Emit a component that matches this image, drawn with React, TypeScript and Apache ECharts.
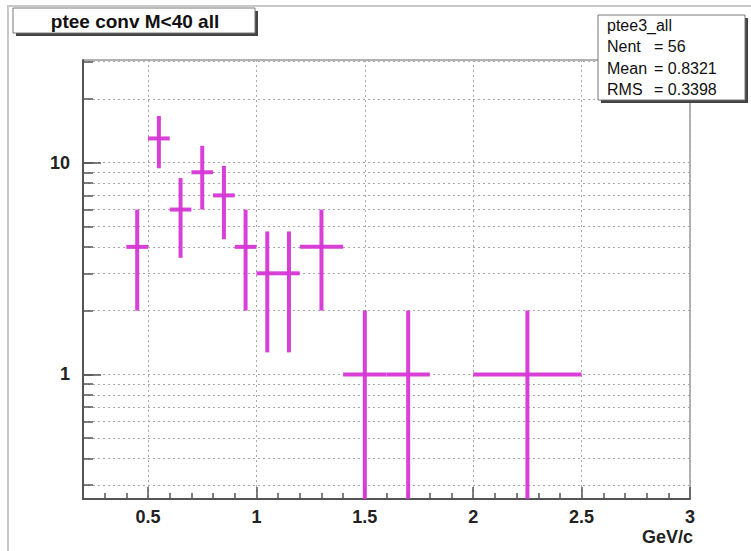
import React, { useEffect, useRef } from "react";
import * as echarts from "echarts";

// Histogram "ptee3_all": variable-width bins of pair pT with Poisson errors
const binLow = [0.4, 0.5, 0.6, 0.7, 0.8, 0.9, 1.0, 1.1, 1.2, 1.4, 1.6, 2.0];
const binHigh = [0.5, 0.6, 0.7, 0.8, 0.9, 1.0, 1.1, 1.2, 1.4, 1.6, 1.8, 2.5];
const counts = [4, 13, 6, 9, 7, 4, 3, 3, 4, 1, 1, 1];
const errors = [2, 3.6, 2.45, 3, 2.65, 2, 1.73, 1.73, 2, 1, 1, 1];

// Axis ticks
const xMajorTicks = [0.5, 1, 1.5, 2, 2.5, 3];
const xMinorTicks = [
  0.3, 0.4, 0.6, 0.7, 0.8, 0.9, 1.1, 1.2, 1.3, 1.4, 1.6, 1.7, 1.8, 1.9,
  2.1, 2.2, 2.3, 2.4, 2.6, 2.7, 2.8, 2.9,
];
const yMajorTicks = [1, 10];
const yMinorTicks = [
  0.3, 0.4, 0.5, 0.6, 0.7, 0.8, 0.9, 2, 3, 4, 5, 6, 7, 8, 9, 20, 30,
];

// Statistics box
const statTitle = "ptee3_all";
const statLabels = ["Nent", "Mean", "RMS"];
const statValues = ["56", "0.8321", "0.3398"];

const histTitle = "ptee conv M<40 all";
const xUnit = "GeV/c";

const X_MIN = 0.2;
const X_MAX = 3;
const Y_MIN = 0.258;
const Y_MAX = 30.5;

const FONT = "'Liberation Sans', Arial, Helvetica, sans-serif";
const MAGENTA = "#d636d6";
const AXIS = "#555";
const GRID = "#a8a8a8";

export default function App() {
  const ref = useRef<HTMLDivElement>(null);

  useEffect(() => {
    if (!ref.current) return;
    const chart = echarts.init(ref.current, undefined, { renderer: "svg" });

    const data = binLow.map((lo, i) => [lo, binHigh[i], counts[i], errors[i]]);

    const statLines = statLabels.map((lab, i) => [
      {
        type: "text",
        x: 607,
        y: 46.5 + i * 21.5,
        z: 102,
        style: {
          text: lab,
          font: `16px ${FONT}`,
          fill: "#111",
          textVerticalAlign: "middle",
        },
      },
      {
        type: "text",
        x: 654,
        y: 46.5 + i * 21.5,
        z: 102,
        style: {
          text: "= " + statValues[i],
          font: `16px ${FONT}`,
          fill: "#111",
          textVerticalAlign: "middle",
        },
      },
    ]).flat();

    chart.setOption({
      animation: false,
      backgroundColor: "#fff",
      grid: {
        left: 83,
        right: 61,
        top: 60,
        bottom: 52,
        show: true,
        borderColor: "#666",
        borderWidth: 1,
        backgroundColor: "transparent",
      },
      xAxis: [
        {
          type: "value",
          min: X_MIN,
          max: X_MAX,
          position: "bottom",
          axisLine: { show: true, lineStyle: { color: AXIS, width: 2 } },
          axisTick: {
            show: true,
            inside: true,
            length: 12,
            customValues: xMajorTicks,
            lineStyle: { color: AXIS, width: 1.5 },
          },
          axisLabel: {
            customValues: xMajorTicks,
            fontFamily: FONT,
            fontWeight: "bold",
            fontSize: 18,
            color: "#222",
            margin: 9,
            formatter: (v: number) => String(v),
          },
          splitLine: {
            show: true,
            lineStyle: { color: GRID, width: 1, type: [2, 3] },
          },
        },
        {
          type: "value",
          min: X_MIN,
          max: X_MAX,
          position: "bottom",
          axisLine: { show: false },
          axisTick: {
            show: true,
            inside: true,
            length: 6,
            customValues: xMinorTicks,
            lineStyle: { color: AXIS, width: 1.5 },
          },
          axisLabel: { show: false },
          splitLine: { show: false },
        },
      ],
      yAxis: [
        {
          type: "log",
          logBase: 10,
          min: Y_MIN,
          max: Y_MAX,
          position: "left",
          axisLine: { show: true, lineStyle: { color: AXIS, width: 2 } },
          axisTick: {
            show: true,
            inside: true,
            length: 18,
            customValues: yMajorTicks,
            lineStyle: { color: AXIS, width: 1.5 },
          },
          axisLabel: {
            customValues: yMajorTicks,
            fontFamily: FONT,
            fontWeight: "bold",
            fontSize: 18,
            color: "#222",
            margin: 13,
            formatter: (v: number) => String(v),
          },
          splitLine: { show: false },
        },
        {
          type: "log",
          logBase: 10,
          min: Y_MIN,
          max: Y_MAX,
          position: "left",
          axisLine: { show: false },
          axisTick: {
            show: true,
            inside: true,
            length: 10,
            customValues: [...yMinorTicks, ...yMajorTicks],
            lineStyle: { color: AXIS, width: 1.5 },
          },
          axisLabel: { show: false },
          splitLine: {
            show: true,
            lineStyle: { color: GRID, width: 1, type: [2, 3] },
          },
        },
      ],
      series: [
        {
          type: "custom",
          xAxisIndex: 0,
          yAxisIndex: 0,
          clip: true,
          encode: { x: [0, 1], y: 2 },
          data,
          renderItem: (params: any, api: any) => {
            const lo = api.value(0);
            const hi = api.value(1);
            const y = api.value(2);
            const e = api.value(3);
            const xc = (lo + hi) / 2;
            const yl = Math.max(y - e, Y_MIN);
            const yh = Math.min(y + e, Y_MAX);
            const a = api.coord([lo, y]);
            const b = api.coord([hi, y]);
            const top = api.coord([xc, yh]);
            const bot = api.coord([xc, yl]);
            const style = { stroke: MAGENTA, lineWidth: 4, opacity: 0.95 };
            return {
              type: "group",
              children: [
                {
                  type: "line",
                  shape: { x1: a[0], y1: a[1], x2: b[0], y2: b[1] },
                  style,
                },
                {
                  type: "line",
                  shape: { x1: top[0], y1: top[1], x2: bot[0], y2: bot[1] },
                  style,
                },
              ],
            };
          },
        },
      ],
      graphic: [
        // canvas border
        {
          type: "rect",
          z: 90,
          shape: { x: 8, y: 6, width: 780, height: 580 },
          style: { fill: "none", stroke: "#c8c8c8", lineWidth: 2 },
        },
        // title box
        {
          type: "rect",
          z: 100,
          shape: { x: 16, y: 11, width: 242, height: 25 },
          style: { fill: "#444" },
        },
        {
          type: "rect",
          z: 101,
          shape: { x: 13, y: 8, width: 242, height: 25 },
          style: { fill: "#fff", stroke: "#777", lineWidth: 1 },
        },
        {
          type: "text",
          z: 102,
          x: 135,
          y: 21,
          style: {
            text: histTitle,
            font: `bold 19px ${FONT}`,
            fill: "#111",
            textAlign: "center",
            textVerticalAlign: "middle",
          },
        },
        // statistics box
        {
          type: "rect",
          z: 100,
          shape: { x: 601, y: 18, width: 147, height: 85 },
          style: { fill: "#444" },
        },
        {
          type: "rect",
          z: 101,
          shape: { x: 598, y: 15, width: 147, height: 85 },
          style: { fill: "#fff", stroke: "#777", lineWidth: 1 },
        },
        {
          type: "text",
          z: 102,
          x: 607,
          y: 25,
          style: {
            text: statTitle,
            font: `16px ${FONT}`,
            fill: "#111",
            textVerticalAlign: "middle",
          },
        },
        ...statLines,
        // x-axis unit
        {
          type: "text",
          z: 102,
          x: 693,
          y: 537,
          style: {
            text: xUnit,
            font: `bold 18px ${FONT}`,
            fill: "#222",
            textAlign: "right",
            textVerticalAlign: "middle",
          },
        },
      ],
    });

    return () => chart.dispose();
  }, []);

  return (
    <div
      ref={ref}
      style={{
        position: "fixed",
        left: 0,
        top: 0,
        width: 751,
        height: 551,
        background: "#fff",
      }}
    />
  );
}
